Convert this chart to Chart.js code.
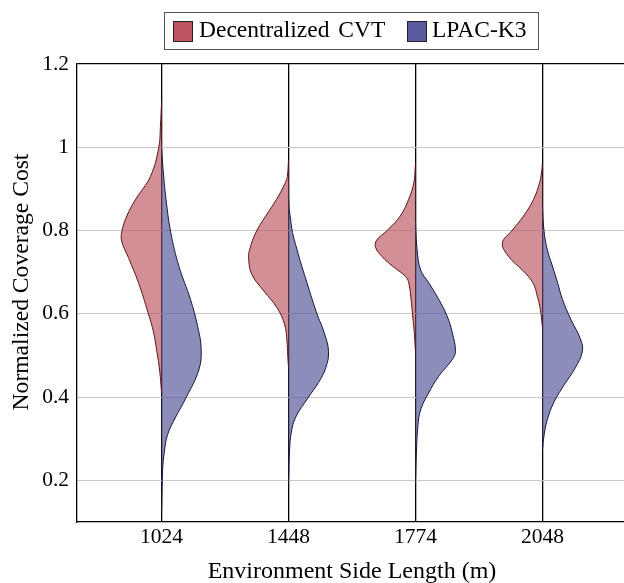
<!DOCTYPE html>
<html>
<head>
<meta charset="utf-8">
<script src="https://cdn.jsdelivr.net/npm/chart.js@4.4.1/dist/chart.umd.min.js"></script>
<style>
  html, body { margin: 0; padding: 0; background: #fff; overflow: hidden; }
  #wrap { position: relative; width: 624px; height: 583px; overflow: hidden;
          font-family: "Liberation Serif", "Times New Roman", serif; color: #000; }
  #chart { position: absolute; left: 0; top: 0; }
  .legend { position: absolute; left: 164px; top: 12px; width: 373px; height: 36px;
            border: 1px solid #555; font-size: 23.5px; }
  .item { position: absolute; top: -2px; height: 36px; line-height: 36px; white-space: nowrap; word-spacing: 3px; }
  .swatch { position: absolute; top: 8px; width: 18px; height: 19px; border: 1px solid #222; }
  .ytitle { position: absolute; left: -130px; top: 270px; width: 300px; height: 24px; line-height: 24px;
            font-size: 23.6px; text-align: center; white-space: nowrap; transform: rotate(-90deg); }
</style>
</head>
<body>
<div id="wrap">
  <canvas id="chart" width="628" height="583"></canvas>
  <div class="ytitle">Normalized Coverage Cost</div>
  <div class="legend">
    <div class="swatch" style="left:8px;background:#bc555f"></div>
    <div class="item" style="left:34px">Decentralized CVT</div>
    <div class="swatch" style="left:242px;background:#5a5a9e"></div>
    <div class="item" style="left:267px">LPAC-K3</div>
  </div>
</div>
<script>
// ── Data ──────────────────────────────────────────────────────────────────────
const categories = ["1024", "1448", "1774", "2048"];
const positions  = [1, 2, 3, 4];
const yTicks     = [0.2, 0.4, 0.6, 0.8, 1, 1.2];
const yTickLabels = ["0.2", "0.4", "0.6", "0.8", "1", "1.2"];

// relative density (1 = widest half) at each cost level, bottom -> top
const cvt1024Y = [0.41, 0.465, 0.51, 0.555, 0.60, 0.675, 0.735, 0.775, 0.80, 0.835, 0.875, 0.93, 1.0, 1.05, 1.11];
const cvt1024W = [0, 0.05, 0.12, 0.2, 0.33, 0.58, 0.83, 1.0, 0.99, 0.87, 0.65, 0.28, 0.07, 0.03, 0];
const lpac1024Y = [0.13, 0.17, 0.225, 0.27, 0.31, 0.35, 0.40, 0.465, 0.515, 0.57, 0.635, 0.715, 0.795, 0.875, 0.955, 1.0];
const lpac1024W = [0, 0.01, 0.025, 0.07, 0.15, 0.34, 0.62, 0.93, 0.99, 0.9, 0.72, 0.43, 0.23, 0.11, 0.03, 0];

const cvt1448Y = [0.47, 0.50, 0.535, 0.575, 0.615, 0.655, 0.695, 0.735, 0.755, 0.795, 0.835, 0.875, 0.915, 0.93, 0.97];
const cvt1448W = [0, 0.02, 0.04, 0.1, 0.29, 0.62, 0.92, 1.0, 0.97, 0.82, 0.57, 0.3, 0.08, 0.03, 0];
const lpac1448Y = [0.19, 0.23, 0.27, 0.31, 0.35, 0.40, 0.435, 0.47, 0.51, 0.555, 0.595, 0.635, 0.675, 0.715, 0.755, 0.795, 0.835, 0.86, 0.92];
const lpac1448W = [0, 0.01, 0.025, 0.06, 0.17, 0.5, 0.75, 0.93, 1.0, 0.89, 0.73, 0.59, 0.46, 0.33, 0.21, 0.1, 0.04, 0.01, 0];

const cvt1774Y = [0.51, 0.555, 0.595, 0.635, 0.675, 0.69, 0.715, 0.737, 0.76, 0.777, 0.80, 0.835, 0.875, 0.915, 0.96];
const cvt1774W = [0, 0.03, 0.07, 0.11, 0.17, 0.25, 0.58, 0.83, 1.0, 0.97, 0.71, 0.38, 0.17, 0.04, 0];
const lpac1774Y = [0.19, 0.27, 0.33, 0.37, 0.41, 0.45, 0.49, 0.51, 0.555, 0.595, 0.635, 0.675, 0.705, 0.755, 0.82];
const lpac1774W = [0, 0.025, 0.06, 0.13, 0.33, 0.58, 0.92, 1.0, 0.92, 0.79, 0.58, 0.33, 0.13, 0.04, 0];

const cvt2048Y = [0.57, 0.61, 0.64, 0.675, 0.705, 0.737, 0.77, 0.80, 0.835, 0.875, 0.915, 0.94, 0.96];
const cvt2048W = [0, 0.05, 0.12, 0.24, 0.5, 0.84, 1.0, 0.76, 0.47, 0.22, 0.07, 0.02, 0];
const lpac2048Y = [0.27, 0.30, 0.345, 0.39, 0.43, 0.47, 0.51, 0.54, 0.585, 0.635, 0.675, 0.715, 0.755, 0.80, 0.86];
const lpac2048W = [0, 0.03, 0.12, 0.3, 0.55, 0.82, 1.0, 0.95, 0.72, 0.5, 0.38, 0.25, 0.12, 0.04, 0];

// ── Style ─────────────────────────────────────────────────────────────────────
const CVT_FILL  = "rgba(188,85,95,0.66)";
const CVT_EDGE  = "#5a1418";
const LPAC_FILL = "rgba(82,82,148,0.66)";
const LPAC_EDGE = "#14143e";
const HALF_WIDTH = 0.315;   // x units for density 1
const FONT = "'Liberation Serif', 'Times New Roman', serif";

function halfViolin(pos, side, ys, ws, fill, edge) {
  return {
    data: ys.map((y, i) => ({ x: pos + side * ws[i] * HALF_WIDTH, y })),
    showLine: true,
    fill: "shape",
    backgroundColor: fill,
    borderColor: edge,
    borderWidth: 1,
    pointRadius: 0,
    tension: 0.4,
  };
}

const datasets = [
  halfViolin(positions[0], -1, cvt1024Y,  cvt1024W,  CVT_FILL,  CVT_EDGE),
  halfViolin(positions[0],  1, lpac1024Y, lpac1024W, LPAC_FILL, LPAC_EDGE),
  halfViolin(positions[1], -1, cvt1448Y,  cvt1448W,  CVT_FILL,  CVT_EDGE),
  halfViolin(positions[1],  1, lpac1448Y, lpac1448W, LPAC_FILL, LPAC_EDGE),
  halfViolin(positions[2], -1, cvt1774Y,  cvt1774W,  CVT_FILL,  CVT_EDGE),
  halfViolin(positions[2],  1, lpac1774Y, lpac1774W, LPAC_FILL, LPAC_EDGE),
  halfViolin(positions[3], -1, cvt2048Y,  cvt2048W,  CVT_FILL,  CVT_EDGE),
  halfViolin(positions[3],  1, lpac2048Y, lpac2048W, LPAC_FILL, LPAC_EDGE),
];

new Chart(document.getElementById("chart"), {
  type: "scatter",
  data: { datasets },
  options: {
    responsive: false,
    animation: false,
    events: [],
    layout: { padding: { top: 64, right: 1, bottom: 0, left: 0 } },
    plugins: { legend: { display: false }, tooltip: { enabled: false } },
    scales: {
      x: {
        type: "linear",
        min: 1 / 3, max: 14 / 3,
        z: 1,
        afterBuildTicks: s => { s.ticks = positions.map(v => ({ value: v })); },
        afterFit: s => { s.height = 61; },
        ticks: {
          callback: v => categories[positions.indexOf(v)],
          font: { family: FONT, size: 21.5 },
          color: "#000",
          padding: 2,
          maxRotation: 0,
          autoSkip: false,
        },
        grid: { color: "#000", lineWidth: 1.3, drawTicks: false },
        border: { color: "#000", width: 1.3 },
        title: {
          display: true,
          text: "Environment Side Length (m)",
          font: { family: FONT, size: 24, lineHeight: "22px" },
          color: "#000",
          padding: 0,
        },
      },
      y: {
        min: 0.1, max: 1.2,
        afterBuildTicks: s => { s.ticks = yTicks.map(v => ({ value: v })); },
        afterFit: s => { s.width = 77; },
        ticks: {
          callback: v => yTickLabels[yTicks.indexOf(v)],
          font: { family: FONT, size: 21.5 },
          color: "#000",
          padding: 8,
        },
        grid: {
          color: c => (c.tick && c.tick.value === 1.2 ? "#000" : "#c8c8c8"),
          lineWidth: c => (c.tick && c.tick.value === 1.2 ? 1.3 : 1),
          drawTicks: false,
        },
        border: { color: "#000", width: 1.3 },
      },
    },
  },
});
</script>
</body>
</html>
